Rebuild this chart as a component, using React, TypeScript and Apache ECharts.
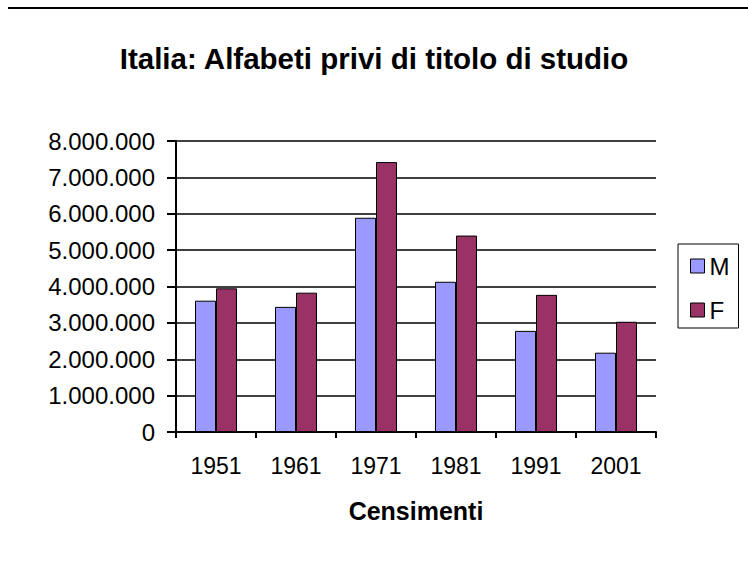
import React, { useEffect, useRef } from "react";
import * as echarts from "echarts";

const categories = ["1951", "1961", "1971", "1981", "1991", "2001"];
const maschi = [3610000, 3440000, 5890000, 4130000, 2780000, 2180000];
const femmine = [3950000, 3830000, 7420000, 5400000, 3770000, 3030000];
const seriesNames = ["M", "F"];
const titleText = "Italia: Alfabeti privi di titolo di studio";
const xAxisName = "Censimenti";

const FONT = "'Liberation Sans', Arial, sans-serif";

function fmt(v: number): string {
  return String(v).replace(/\B(?=(\d{3})+(?!\d))/g, ".");
}

export default function App() {
  const ref = useRef<HTMLDivElement>(null);
  useEffect(() => {
    if (!ref.current) return;
    const chart = echarts.init(ref.current, null, { renderer: "svg" });
    chart.setOption({
      animation: false,
      backgroundColor: "#ffffff",
      title: {
        text: titleText,
        left: "center",
        top: 38,
        padding: [5, 0, 5, 15],
        textStyle: { fontFamily: FONT, fontSize: 29.5, fontWeight: "bold", color: "#000" },
      },
      graphic: [
        {
          type: "line",
          shape: { x1: 8, y1: 8, x2: 748, y2: 8 },
          style: { stroke: "#000", lineWidth: 2 },
        },
      ],
      legend: {
        orient: "vertical",
        left: 678,
        top: 244,
        padding: [10, 9, 6, 12],
        itemGap: 20,
        itemWidth: 14,
        itemHeight: 14,
        borderColor: "#000",
        borderWidth: 1,
        icon: "rect",
        itemStyle: { borderColor: "#000", borderWidth: 1 },
        textStyle: { fontFamily: FONT, fontSize: 24, color: "#000" },
        data: seriesNames,
      },
      grid: { left: 176, right: 92, top: 141, bottom: 134, containLabel: false },
      xAxis: {
        type: "category",
        data: categories,
        name: xAxisName,
        nameLocation: "middle",
        nameGap: 66,
        nameTextStyle: { fontFamily: FONT, fontSize: 25, fontWeight: "bold", color: "#000" },
        axisLine: { show: true, lineStyle: { color: "#000", width: 2 } },
        axisTick: { show: true, length: 6, lineStyle: { color: "#000", width: 2 } },
        axisLabel: { margin: 22, fontFamily: FONT, fontSize: 23, color: "#000" },
      },
      yAxis: {
        type: "value",
        min: 0,
        max: 8000000,
        interval: 1000000,
        axisLine: { show: true, lineStyle: { color: "#000", width: 2 } },
        axisTick: { show: true, length: 9, lineStyle: { color: "#000", width: 2 } },
        axisLabel: {
          margin: 21,
          fontFamily: FONT,
          fontSize: 24,
          color: "#000",
          formatter: (v: number) => fmt(v),
        },
        splitLine: { show: true, lineStyle: { color: "#000", width: 1.5 } },
      },
      series: [
        {
          name: seriesNames[0],
          type: "bar",
          data: maschi,
          barWidth: 21,
          barGap: "0%",
          itemStyle: { color: "#9999FF", borderColor: "#000", borderWidth: 1 },
        },
        {
          name: seriesNames[1],
          type: "bar",
          data: femmine,
          barWidth: 21,
          barGap: "0%",
          itemStyle: { color: "#993366", borderColor: "#000", borderWidth: 1 },
        },
      ],
    });
    return () => chart.dispose();
  }, []);
  return (
    <div
      ref={ref}
      style={{ position: "fixed", left: 0, top: 0, width: 748, height: 566, background: "#fff" }}
    />
  );
}
